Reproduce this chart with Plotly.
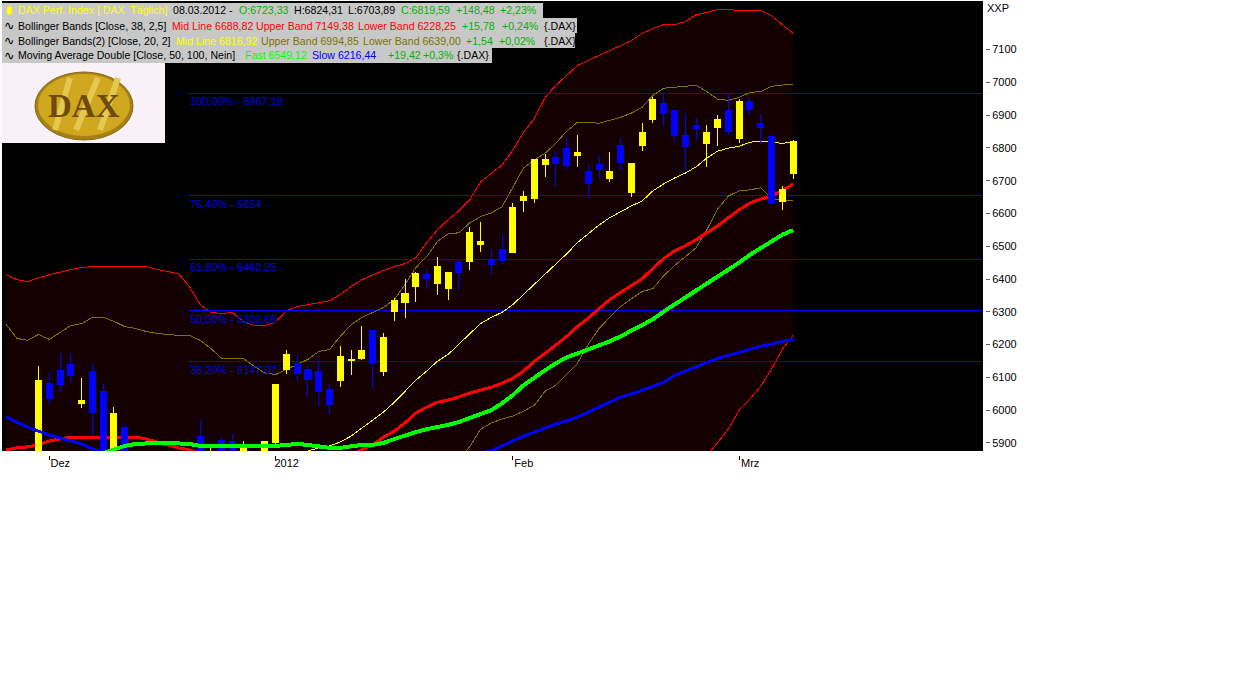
import plotly.graph_objects as go

W, H = 1241, 689

# --- data (prices), one entry per trading day ---
day = list(range(-3, 71))
tick_days = [1, 22, 44, 65]
tick_names = ["Dez", "2012", "Feb", "Mrz"]
y_ticks = [5900, 6000, 6100, 6200, 6300, 6400, 6500, 6600, 6700, 6800, 6900, 7000, 7100]

opens = [5600,5700,5760,5830,6081,6122,6140,6021,6119,6058,5860,5948,5800,5790,5680,5720,5710,5670,5921,5790,5909,5903,5840,5870,5840,5900,
         6125,6143,6125,6119,6064,6091,6152,6158,6243,6119,6301,6328,6377,6413,6386,6371,6450,6453,6505,6456,6489,6480,6638,6647,6748,6772,
         6799,6778,6729,6748,6708,6808,6663,6808,6887,6936,6915,6839,6869,6814,6863,6915,6830,6942,6875,6836,6635,6723.33]
highs = [5680,5760,5810,6134,6116,6173,6173,6097,6140,6079,6009,5954,5860,5830,5750,5790,5760,5860,5970,5885,5918,5927,5906,5875,5903,6079,
         6182,6167,6134,6155,6079,6195,6182,6258,6246,6234,6343,6401,6422,6432,6468,6422,6459,6559,6574,6492,6535,6632,6669,6766,6781,6787,
         6830,6839,6751,6775,6787,6830,6751,6875,6954,6969,6915,6903,6890,6869,6900,6963,6948,6954,6903,6839,6684,6824.31]
lows = [5560,5680,5740,5820,6018,6054,6085,6006,5921,5860,5850,5780,5760,5660,5650,5680,5640,5660,5760,5760,5840,5830,5820,5820,5830,5895,
        6110,6088,6040,6012,5988,6070,6106,6152,6064,6103,6271,6280,6331,6371,6350,6337,6365,6429,6483,6413,6447,6480,6605,6632,6711,6681,
        6732,6742,6647,6705,6696,6732,6650,6790,6875,6869,6818,6729,6824,6742,6805,6839,6814,6900,6811,6629,6611,6703.89]
closes = [5660,5745,5800,6091,6037,6079,6106,6031,5994,5870,5991,5790,5785,5675,5700,5701,5654,5847,5790,5855,5860,5850,5885,5860,5903,6079,
          6170,6113,6094,6058,6018,6164,6155,6182,6143,6222,6334,6356,6416,6401,6438,6419,6419,6541,6514,6444,6456,6617,6653,6766,6766,6751,
          6745,6787,6690,6735,6729,6754,6751,6848,6948,6906,6839,6805,6860,6848,6887,6851,6942,6918,6863,6629,6672,6819.59]

bb38_upper = [6413,6398,6392,6404,6413,6422,6429,6435,6438,6438,6438,6438,6438,6438,6429,6422,6416,6377,6322,6298,6295,6298,6271,6258,6258,6268,
              6304,6316,6322,6328,6334,6353,6377,6398,6413,6426,6438,6447,6465,6511,6550,6581,6608,6641,6696,6723,6748,6793,6848,6890,6954,6991,
              7021,7051,7067,7082,7097,7112,7127,7149,7164,7176,7176,7185,7206,7213,7222,7222,7219,7219,7219,7203,7176,7149.38]
bb38_mid = [5879,5885,5888,5894,5906,5912,5918,5918,5918,5918,5918,5918,5918,5912,5903,5894,5885,5879,5866,5855,5852,5850,5850,5852,5852,5850,
            5850,5850,5850,5850,5850,5855,5863,5879,5894,5918,5936,5961,5991,6009,6024,6031,6040,6052,6061,6070,6082,6097,6119,6149,6173,6198,
            6225,6255,6280,6310,6337,6359,6380,6401,6432,6462,6486,6501,6520,6541,6562,6587,6611,6632,6644,6653,6672,6688.82]
bb38_lower = [5345,5372,5384,5384,5399,5402,5407,5401,5398,5398,5398,5398,5398,5386,5377,5366,5354,5381,5410,5412,5415,5412,5439,5452,5452,5432,
              5396,5384,5378,5372,5366,5357,5349,5360,5375,5410,5434,5475,5517,5507,5498,5481,5472,5463,5426,5417,5416,5401,5390,5408,5392,5405,
              5429,5459,5493,5532,5565,5594,5633,5671,5706,5754,5802,5823,5840,5860,5900,5942,6000,6034,6073,6125,6185,6228.25]
bb20_upper = [6261,6219,6213,6231,6216,6237,6258,6264,6283,6283,6271,6255,6249,6240,6234,6231,6228,6228,6213,6188,6158,6158,6158,6134,6113,6109,
              6125,6140,6155,6179,6185,6225,6261,6283,6298,6313,6337,6383,6435,6468,6514,6538,6541,6571,6590,6602,6620,6678,6739,6763,6784,6814,
              6851,6878,6878,6875,6884,6893,6906,6924,6960,6982,6985,6988,6991,6972,6948,6945,6954,6969,6972,6988,6991,6994.85]
bb20_mid_days = list(range(25, 71))
bb20_mid = [5876,5885,5891,5903,5921,5945,5970,5994,6024,6058,6091,6119,6149,6170,6201,6234,6264,6283,6298,6322,6353,6383,6416,6447,6477,6511,
            6538,6565,6587,6605,6623,6638,6669,6690,6708,6723,6742,6769,6790,6799,6805,6817,6821,6817,6814,6816.92]
bb20_low_days = list(range(39, 71))
bb20_lower = [5851,5888,5942,5961,5973,5982,5997,6015,6058,6076,6109,6143,6201,6249,6283,6316,6340,6362,6371,6410,6441,6468,6495,6550,6614,6653,
              6669,6672,6678,6647,6638,6639.00]
ma_fast_days = list(range(6, 71))
ma_fast = [5869,5879,5891,5897,5900,5900,5900,5900,5897,5891,5891,5888,5888,5891,5891,5891,5891,5894,5897,5894,5888,5885,5885,5891,5894,5894,
           5900,5912,5924,5933,5942,5948,5955,5964,5976,5988,6000,6021,6046,6076,6100,6122,6143,6161,6173,6185,6198,6210,6225,6243,6258,6277,
           6301,6322,6344,6365,6386,6407,6429,6450,6474,6495,6517,6535,6549.12]
ma_slow_a_days = list(range(-3, 7))
ma_slow_a = [5979,5964,5948,5936,5924,5915,5906,5897,5882,5869]
ma_slow_b_days = list(range(41, 71))
ma_slow_b = [5869,5876,5891,5906,5921,5933,5945,5958,5967,5979,5994,6009,6024,6040,6049,6061,6073,6085,6106,6119,6131,6146,6158,6167,6176,6185,
             6195,6201,6210,6216.44]

fib_levels = [6967.18, 6654, 6460.25, 6303.66, 6147.07]
fib_labels = ["100,00% - 6967,18", "76,40% - 6654", "61,80% - 6460,25", "50,00% - 6303,66", "38,20% - 6147,07"]
fib_start = 14

x_range = [-3.386, 87.62]
y_range = [5875.45, 7247.95]

MAROON = "#140000"
OLIVE = "#7d7300"
GREEN_T = "#00b400"
FONT = "Liberation Sans"


def px(v):
    return v / W


def py(v):
    return 1 - v / H


fig = go.Figure()


def line(x, y, color, width, axes=("x", "y"), **kw):
    fig.add_trace(go.Scatter(x=x, y=y, mode="lines", line=dict(color=color, width=width),
                             xaxis=axes[0], yaxis=axes[1], showlegend=False, hoverinfo="skip", **kw))


# band fill + everything behind the candles
line(day, bb38_lower, "#ff0000", 1)
line(day, bb38_upper, "#ff0000", 1, fill="tonexty", fillcolor=MAROON)
for lv in fib_levels:
    line([fib_start, 90], [lv, lv], "#0000ff", 1)
line(day, bb20_upper, OLIVE, 1)
line(bb20_low_days, bb20_lower, OLIVE, 1)
line(day, bb38_mid, "#ff0000", 3)
line(bb20_mid_days, bb20_mid, "#ffff00", 1)

# candles on an overlay so they sit above the fill
fig.add_trace(go.Candlestick(x=day, open=opens, high=highs, low=lows, close=closes,
                             increasing=dict(line=dict(color="#ffff00", width=1), fillcolor="#ffff00"),
                             decreasing=dict(line=dict(color="#0000ff", width=1), fillcolor="#0000ff"),
                             whiskerwidth=0, xaxis="x2", yaxis="y2", showlegend=False, hoverinfo="skip"))
line(ma_fast_days, ma_fast, "#00ff00", 4, axes=("x2", "y2"))
line(ma_slow_a_days, ma_slow_a, "#0000ff", 3, axes=("x2", "y2"))
line(ma_slow_b_days, ma_slow_b, "#0000ff", 3, axes=("x2", "y2"))


def pshape(kind, x0, x1, y0, y1, **kw):
    return dict(type=kind, xref="paper", yref="paper", x0=px(x0), x1=px(x1), y0=py(y0), y1=py(y1), **kw)


shapes = []
# gray legend rows
for top, bottom, right in [(3, 18, 543), (18, 33, 577), (33, 48, 575), (48, 63, 492)]:
    shapes.append(pshape("rect", 2, right, bottom, top, fillcolor="#c8c8c8", line=dict(width=0)))
# small candle icon
shapes.append(pshape("rect", 7, 12, 14, 7, fillcolor="#ffff00", line=dict(width=0)))
shapes.append(pshape("line", 9.5, 9.5, 16, 5, line=dict(color="#ffff00", width=1)))
# logo
shapes.append(pshape("rect", 2, 165, 143, 63, fillcolor="#f8f2f8", line=dict(width=0)))
shapes.append(pshape("circle", 35, 133, 140, 72, fillcolor="#a87f14", line=dict(color="#8a6a14", width=1)))
shapes.append(pshape("circle", 38, 130, 136, 74, fillcolor="#d0a820", line=dict(width=0)))
for x_top, x_bot in [(70, 55), (98, 76), (118, 100)]:
    shapes.append(pshape("line", x_top, x_bot, 78, 130, line=dict(color="#e4c850", width=6)))

anns = []


def note(x, y, text, color="#000000", size=10.6, family=FONT, xanchor="left"):
    anns.append(dict(xref="paper", yref="paper", x=px(x), y=py(y), text=text, showarrow=False,
                     xanchor=xanchor, yanchor="middle", align="left", borderpad=0,
                     font=dict(color=color, size=size, family=family)))


rows = [
    (10.5, [(17, "DAX Perf. Index [.DAX  Täglich]", "#ffff00"), (172, "08.03.2012 -", "#000000"),
            (238, "O:6723,33", GREEN_T), (293, "H:6824,31", "#000000"), (347, "L:6703,89", "#000000"),
            (400, "C:6819,59", GREEN_T), (455, "+148,48", GREEN_T), (499, "+2,23%", GREEN_T)]),
    (25.5, [(17, "Bollinger Bands [Close, 38, 2,5]", "#000000"), (171, "Mid Line 6688,82", "#ff0000"),
            (255, "Upper Band 7149,38", "#ff0000"), (357, "Lower Band 6228,25", "#ff0000"),
            (461, "+15,78", GREEN_T), (501, "+0,24%", GREEN_T), (543, "{.DAX}", "#000000")]),
    (40.5, [(17, "Bollinger Bands(2) [Close, 20, 2]", "#000000"), (175, "Mid Line 6816,92", "#ffff00"),
            (259.5, "Upper Band 6994,85", OLIVE), (362, "Lower Band 6639,00", OLIVE),
            (465, "+1,54", GREEN_T), (498, "+0,02%", GREEN_T), (543, "{.DAX}", "#000000")]),
    (55.5, [(17, "Moving Average Double [Close, 50, 100, Nein]", "#000000"), (244, "Fast 6549,12", "#00ff00"),
            (311, "Slow 6216,44", "#0000ff"), (386.5, "+19,42", GREEN_T), (422, "+0,3%", GREEN_T),
            (456, "{.DAX}", "#000000")]),
]
for y, segs in rows:
    for x, t, c in segs:
        note(x, y, t, color=c)
for y in (25.5, 40.5, 55.5):
    note(3, y, "∿", size=12.5, family="DejaVu Sans")
note(986, 8, "XXP", size=11)
note(84, 106, "<b>DAX</b>", color="#6e4a0c", size=33, family="Liberation Serif", xanchor="center")

for lv, lab in zip(fib_levels, fib_labels):
    anns.append(dict(xref="x", yref="y", x=fib_start, y=lv, text=lab, showarrow=False, xanchor="left", yanchor="top",
                     yshift=-1, borderpad=0, font=dict(color="#0000e6", size=11, family=FONT)))

x_axis = dict(range=x_range, domain=[px(2), px(983)], showgrid=False, zeroline=False, showline=False,
              tickmode="array", tickvals=tick_days, ticktext=tick_names, ticks="outside", ticklen=4,
              tickcolor="#000000", tickfont=dict(size=11, family=FONT, color="#000000"),
              ticklabelshift=11, ticklabelstandoff=-6, anchor="free", position=py(455),
              rangeslider=dict(visible=False))
y_axis = dict(range=y_range, domain=[py(451), py(1)], showgrid=False, zeroline=False, showline=False,
              tickmode="array", tickvals=y_ticks, ticks="outside", ticklen=4, tickformat="d",
              tickcolor="#606060", tickfont=dict(size=11, family=FONT, color="#000000"),
              side="right", anchor="free", position=px(985))

fig.update_layout(
    width=W, height=H, autosize=False, margin=dict(l=0, r=0, t=0, b=0, pad=0),
    paper_bgcolor="#ffffff", plot_bgcolor="#000000", showlegend=False, boxgap=0.44, boxgroupgap=0,
    xaxis=x_axis, yaxis=y_axis,
    xaxis2=dict(range=x_range, overlaying="x", visible=False, anchor="y2", rangeslider=dict(visible=False)),
    yaxis2=dict(range=y_range, overlaying="y", visible=False, anchor="x2"),
    shapes=shapes, annotations=anns,
)

post = ("document.body.style.margin='0';document.body.style.overflow='hidden';"
        "var s=document.createElement('style');"
        "s.textContent='.cartesianlayer path{shape-rendering:crispEdges}';"
        "document.head.appendChild(s);")
fig.write_html("out.html", config={"displayModeBar": False}, post_script=post)
